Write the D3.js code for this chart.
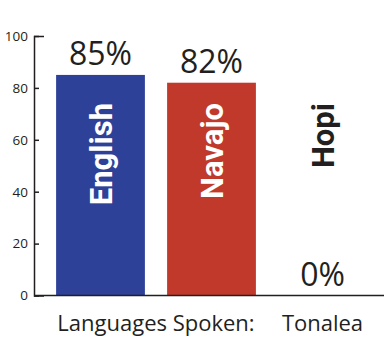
<!DOCTYPE html>
<html><head><meta charset="utf-8">
<script src="https://cdn.jsdelivr.net/npm/d3@7"></script>
<style>html,body{margin:0;padding:0;background:#fff;}svg{display:block;}</style>
</head><body>
<svg id="chart" width="384" height="341"></svg>
<script>
const categories = ["English", "Navajo", "Hopi"];
const values = [85, 82, 0];
const percentLabels = ["85%", "82%", "0%"];
const barColors = ["#2d4198", "#c0392a", "#ffffff"];
const labelColors = ["#ffffff", "#ffffff", "#231f20"];
const yTicks = [0, 20, 40, 60, 80, 100];
const xTitle = "Languages Spoken:";
const placeName = "Tonalea";

const svg = d3.select("#chart");
const ink = "#231f20";
const x = d3.scaleBand().domain(categories).range([45, 378]).paddingInner(0.2).paddingOuter(0.1);
const y = d3.scaleLinear().domain([0, 100]).range([295.5, 36]);

// bars
svg.selectAll("rect.bar").data(categories).join("rect")
  .attr("class", "bar")
  .attr("x", d => x(d))
  .attr("width", x.bandwidth())
  .attr("y", (d, i) => y(values[i]))
  .attr("height", (d, i) => y(0) - y(values[i]))
  .attr("fill", (d, i) => barColors[i]);

// y axis
const yAxis = d3.axisLeft(y).tickValues(yTicks).tickSizeInner(-5).tickSizeOuter(-10).tickPadding(6);
const ga = svg.append("g").attr("transform", "translate(34,0)").call(yAxis);
ga.selectAll("path,line").attr("stroke", ink).attr("stroke-width", 1.5);
ga.selectAll("text").attr("fill", ink).style("font-family", "'Open Sans', sans-serif").style("font-size", "13.5px");

// baseline
svg.append("line").attr("x1", 34).attr("x2", 384).attr("y1", y(0)).attr("y2", y(0))
  .attr("stroke", ink).attr("stroke-width", 1.5);

// percent labels
svg.selectAll("text.pct").data(categories).join("text")
  .attr("class", "pct")
  .attr("x", d => x(d) + x.bandwidth() / 2)
  .attr("y", (d, i) => y(values[i]) - 10)
  .attr("text-anchor", "middle")
  .attr("fill", ink)
  .style("font-family", "'Open Sans', sans-serif")
  .style("font-size", "32px")
  .text((d, i) => percentLabels[i]);

// rotated category labels
svg.selectAll("text.cat").data(categories).join("text")
  .attr("class", "cat")
  .attr("transform", d => `translate(${x(d) + x.bandwidth() / 2 + 11},103) rotate(-90)`)
  .attr("text-anchor", "end")
  .attr("fill", (d, i) => labelColors[i])
  .style("font-family", "Roboto, sans-serif")
  .style("font-weight", "bold")
  .style("font-size", "31px")
  .text(d => d);

// bottom labels
svg.append("text")
  .attr("x", (x("English") + x("Navajo") + x.bandwidth()) / 2)
  .attr("y", 331)
  .attr("text-anchor", "middle")
  .attr("fill", ink)
  .style("font-family", "'Open Sans', sans-serif")
  .style("font-size", "22px")
  .text(xTitle);
svg.append("text")
  .attr("x", x("Hopi") + x.bandwidth() / 2)
  .attr("y", 331)
  .attr("text-anchor", "middle")
  .attr("fill", ink)
  .style("font-family", "'Open Sans', sans-serif")
  .style("font-size", "22px")
  .text(placeName);
</script>
</body></html>
